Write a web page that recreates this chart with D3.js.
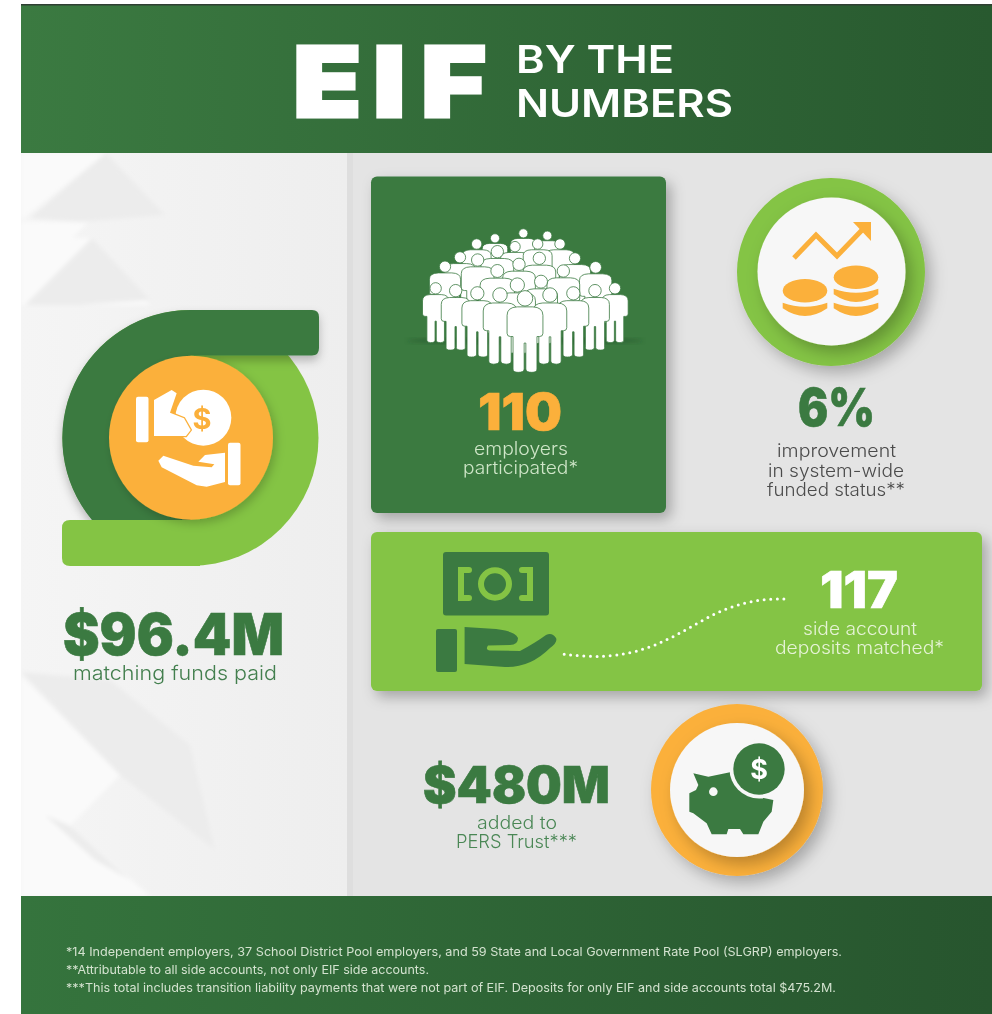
<!DOCTYPE html>
<html>
<head>
<meta charset="utf-8">
<title>EIF by the numbers</title>
<script src="https://cdn.jsdelivr.net/npm/d3@7"></script>
<style>
html, body { margin: 0; padding: 0; background: #fff; }
svg { display: block; filter: blur(0.4px); font-family: Inter, "Open Sans", sans-serif; }
</style>
</head>
<body>
<div id="chart"></div>
<script>
var titleMain = "EIF";
var titleSub = ["BY THE", "NUMBERS"];
var statValues = ["$96.4M", "110", "6%", "117", "$480M"];
var statCaptions = [
    ["matching funds paid"],
    ["employers", "participated*"],
    ["improvement", "in system-wide", "funded status**"],
    ["side account", "deposits matched*"],
    ["added to", "PERS Trust***"]
];
var footnotes = [
    "*14 Independent employers, 37 School District Pool employers, and 59 State and Local Government Rate Pool (SLGRP) employers.",
    "**Attributable to all side accounts, not only EIF side accounts.",
    "***This total includes transition liability payments that were not part of EIF. Deposits for only EIF and side accounts total $475.2M."
];

var dark = "#3b7a41", light = "#84c444", orange = "#fbb03b", paper = "#f7f7f7";

// where each figure and caption line sits: [x0, x1, baseline]
var statPlace = [
    { fig: [63, 284, 654.5, 41.5], fill: dark, caps: [[73, 277, 680, 20]], capFill: "#437f4e" },
    { fig: [478, 562, 429.5, 36.5], fill: orange, caps: [[474, 568, 455, 18], [463, 578, 474, 18]], capFill: "#cfe6c8" },
    { fig: [798, 875, 425.5, 37.5], fill: dark, caps: [[777, 896, 457, 18], [768, 904, 477, 18], [767, 905, 496, 18]], capFill: "#4b4b4b" },
    { fig: [820, 898, 607.5, 36.5], fill: "#fff", caps: [[803, 917, 635, 18], [775, 944, 654, 18]], capFill: "#e6f3d6" },
    { fig: [423, 610, 802.5, 36.5], fill: dark, caps: [[477, 557, 829, 18], [456, 577, 848, 18]], capFill: "#4a8755" }
];

var svg = d3.select("#chart").append("svg").attr("width", 992).attr("height", 1014);
var defs = svg.append("defs");

function gradient(id, c0, c1) {
    var g = defs.append("linearGradient").attr("id", id);
    g.append("stop").attr("offset", "0%").attr("stop-color", c0);
    g.append("stop").attr("offset", "100%").attr("stop-color", c1);
}
gradient("headFill", "#3b7a41", "#28592f");
gradient("footFill", "#35743d", "#27552e");
gradient("leftFill", "#f5f5f5", "#eeeeee");

function shadow(id, dx, dy, blur, alpha) {
    defs.append("filter").attr("id", id)
        .attr("x", "-30%").attr("y", "-30%").attr("width", "160%").attr("height", "160%")
        .append("feDropShadow")
        .attr("dx", dx).attr("dy", dy).attr("stdDeviation", blur)
        .attr("flood-color", "#000").attr("flood-opacity", alpha);
}
shadow("cardShadow", 5, 6, 7, 0.28);
shadow("ringShadow", 6, 7, 8, 0.26);
shadow("barShadow", 0, 5, 5, 0.25);
shadow("discShadow", 3, 4, 5, 0.2);
defs.append("filter").attr("id", "soft").append("feGaussianBlur").attr("stdDeviation", 2);

// crop coordinates from the zoomed reference -> page coordinates
function crop(ox, oy, sx, sy) {
    var x = d3.scaleLinear().domain([0, sx]).range([ox, ox + 1]);
    var y = d3.scaleLinear().domain([0, sy]).range([oy, oy + 1]);
    return function (p) { return [x(p[0]), y(p[1])]; };
}

function poly(g, pts, fill, curve) {
    return g.append("path")
        .attr("d", d3.line().curve(curve || d3.curveLinearClosed)(pts))
        .attr("fill", fill);
}

// text stretched to the exact width in the reference, size taken from its height
function fit(g, str, x0, x1, base, size, weight, fill) {
    return g.append("text")
        .attr("x", x0).attr("y", base)
        .attr("textLength", x1 - x0).attr("lengthAdjust", "spacingAndGlyphs")
        .attr("font-size", size).attr("font-weight", weight).attr("fill", fill)
        .text(str);
}

// ---- panels
svg.append("rect").attr("x", 21).attr("y", 153).attr("width", 326).attr("height", 743).attr("fill", "url(#leftFill)");
svg.append("rect").attr("x", 353).attr("y", 153).attr("width", 639).attr("height", 743).attr("fill", "#e4e4e4");

// faint chevrons in the left panel
var chevrons = svg.append("g").attr("filter", "url(#soft)");
[
    [[21, 153], [106, 153], [21, 220]],
    [[21, 222], [88, 222], [21, 290]],
    [[21, 238], [92, 238], [150, 305], [21, 305]],
    [[21, 676], [120, 775], [70, 826], [150, 896], [21, 896]]
].forEach(function (p) { poly(chevrons, p, "#fafafa"); });
[
    [[106, 153], [165, 215], [80, 222], [30, 218]],
    [[92, 238], [150, 300], [80, 305], [25, 305]],
    [[21, 672], [110, 680], [190, 745], [215, 850], [120, 775]],
    [[45, 815], [70, 826], [130, 880], [95, 860]]
].forEach(function (p) { poly(chevrons, p, "#ececec"); });
svg.append("rect").attr("x", 0).attr("y", 140).attr("width", 21).attr("height", 770).attr("fill", "#fff");
svg.append("rect").attr("x", 347).attr("y", 153).attr("width", 6).attr("height", 743).attr("fill", "#dedede");

// ---- header
svg.append("rect").attr("x", 21).attr("y", 4).attr("width", 971).attr("height", 149).attr("fill", "url(#headFill)");
svg.append("rect").attr("x", 21).attr("y", 4).attr("width", 971).attr("height", 1.5).attr("fill", "#2f3f33");

// one text, placed letter by letter and widened, the fonts here have no such wide black cut
var eifScale = 1.15;
svg.append("text")
    .attr("transform", "translate(0,116.5) scale(" + eifScale + ",1)")
    .attr("x", [293, 373, 421].map(function (x) { return x / eifScale; }).join(" "))
    .attr("y", 0)
    .attr("font-size", 97).attr("font-weight", 900).attr("fill", "#fff")
    .attr("stroke", "#fff").attr("stroke-width", 3.2)
    .text(titleMain);
fit(svg, titleSub[0], 516, 674, 73, 38, 600, "#fff");
fit(svg, titleSub[1], 516, 733, 117, 38, 600, "#fff");

// ---- footer
svg.append("rect").attr("x", 21).attr("y", 896).attr("width", 971).attr("height", 118).attr("fill", "url(#footFill)");
var footPlace = [[66, 842, 956], [66, 429, 974], [66, 836, 992]];
footnotes.forEach(function (t, i) {
    var p = footPlace[i];
    fit(svg, t, p[0], p[1], p[2], 12, 400, "#d3e2cf");
});

// ---- left swirl
var swirl = svg.append("g");
swirl.append("circle").attr("cx", 190.5).attr("cy", 438).attr("r", 128).attr("fill", light);
swirl.append("path").attr("fill", dark).attr("filter", "url(#barShadow)")
    .attr("d", "M312,310 H190.5 A128,128 0 0 0 92,520 H190.5 V355.5 H312 Q319,355.5 319,348 V317 Q319,310 312,310 Z");
swirl.append("path").attr("fill", light)
    .attr("d", "M70,520 H200 V566 H70 Q62,566 62,558 V528 Q62,520 70,520 Z");
swirl.append("circle").attr("cx", 191).attr("cy", 437.7).attr("r", 82).attr("fill", orange).attr("filter", "url(#discShadow)");

var z2 = crop(30, 290, 3, 3);
var money = swirl.append("g");
money.append("rect").attr("x", 136).attr("y", 396.7).attr("width", 12.5).attr("height", 45.5).attr("rx", 2).attr("fill", "#fff");
money.append("circle").attr("cx", z2([520, 0])[0]).attr("cy", z2([0, 383])[1]).attr("r", 28).attr("fill", "#fff");
poly(money, [[372, 330], [425, 300], [440, 310], [420, 368], [462, 385], [482, 420], [468, 438], [372, 438]].map(z2), "#fff")
    .attr("stroke", orange).attr("stroke-width", 2.5).attr("paint-order", "stroke");
money.append("text").attr("x", z2([516, 0])[0]).attr("y", z2([0, 416])[1]).attr("text-anchor", "middle")
    .attr("font-size", 29).attr("font-weight", 700).attr("fill", orange).text("$");
money.append("rect").attr("x", 228).attr("y", 442.7).attr("width", 12.5).attr("height", 42.5).attr("rx", 2).attr("fill", "#fff");
poly(money, [[385, 512], [400, 497], [490, 527], [545, 532], [553, 523], [505, 515], [525, 495], [585, 488], [585, 576], [530, 590], [500, 586], [395, 532]].map(z2), "#fff");

// ---- employers card
svg.append("rect").attr("x", 371).attr("y", 176.5).attr("width", 295).attr("height", 336.5).attr("rx", 6)
    .attr("fill", dark).attr("filter", "url(#cardShadow)");

var z3 = crop(365, 170, 3, 3);
// [x of head, y of head, figure height, width factor] back to front, crop px
var crowd = [
    [475, 190, 145, 1.25], [390, 205, 145, 1.25], [547, 197, 145, 1.25],
    [335, 222, 165, 1.25], [585, 222, 165, 1.25], [450, 230, 165, 1.25], [518, 222, 165, 1.25],
    [285, 262, 178, 1.25], [630, 265, 178, 1.25], [397, 245, 195, 1.2], [338, 270, 195, 1.2], [523, 265, 195, 1.2],
    [240, 290, 178, 1.25], [692, 292, 185, 1.25], [462, 283, 195, 1.2], [397, 303, 205, 1.2], [595, 303, 195, 1.2],
    [528, 335, 205, 1.15], [457, 345, 225, 1.15],
    [212, 355, 179, 1.05], [750, 355, 179, 1.05], [272, 362, 196, 1.05], [690, 362, 196, 1.05],
    [337, 370, 210, 1.05], [625, 370, 210, 1.05], [405, 375, 228, 1.05], [555, 375, 228, 1.05], [480, 385, 244, 1.05]
];
var personPath = "M-.09,.195 Q-.21,.2 -.21,.3 L-.21,.52 Q-.21,.56 -.17,.56 L-.14,.56 L-.14,.96 Q-.14,1 -.08,1 Q-.012,1 -.01,.96 L-.01,.64 L.01,.64 L.01,.96 Q.012,1 .08,1 Q.14,1 .14,.96 L.14,.56 L.17,.56 Q.21,.56 .21,.52 L.21,.3 Q.21,.2 .09,.195 Z";

var people = svg.append("g");
var foot = z3([480, 512]);
people.append("ellipse").attr("cx", foot[0]).attr("cy", foot[1]).attr("rx", 118).attr("ry", 3)
    .attr("fill", "#1b4524").attr("opacity", 0.5).attr("filter", "url(#soft)");
var person = people.selectAll("g.person").data(crowd).enter().append("g")
    .attr("class", "person")
    .attr("transform", function (d) {
        var p = z3([d[0], d[1]]);
        return "translate(" + p[0] + "," + p[1] + ")";
    });
// each head goes with its own body so the figures in front cover it
person.append("path").attr("d", personPath).attr("fill", "#fff")
    .attr("stroke", dark).attr("stroke-width", 0.8).attr("vector-effect", "non-scaling-stroke")
    .attr("transform", function (d) {
        var h = d[2] / 3;
        return "translate(0," + (-0.09 * h) + ") scale(" + (h * d[3]) + "," + h + ")";
    });
person.append("circle").attr("r", function (d) { return d[2] / 3 * 0.095; })
    .attr("fill", "#fff").attr("stroke", dark).attr("stroke-width", 0.8);

// ---- funded status ring
svg.append("circle").attr("cx", 831).attr("cy", 272).attr("r", 94).attr("fill", light).attr("filter", "url(#ringShadow)");
svg.append("circle").attr("cx", 831.5).attr("cy", 271.5).attr("r", 74).attr("fill", paper).attr("filter", "url(#ringShadow)");

var trend = svg.append("g");
trend.append("path").attr("fill", "none").attr("stroke", orange).attr("stroke-width", 5).attr("stroke-linejoin", "miter")
    .attr("d", d3.line()([[794, 258], [816, 235], [837, 256], [864, 228]]));
poly(trend, [[853, 222], [871, 222], [871, 241]], orange);

function coinBand(cx, y) {
    var rx = 22.3;
    return "M" + (cx - rx) + "," + y + " Q" + cx + "," + (y + 8) + " " + (cx + rx) + "," + y +
        " V" + (y + 5.6) + " Q" + cx + "," + (y + 21) + " " + (cx - rx) + "," + (y + 5.6) + " Z";
}
[[805, 290.7, [302.7]], [856, 277.3, [288.7, 302.7]]].forEach(function (c) {
    trend.append("ellipse").attr("cx", c[0]).attr("cy", c[1]).attr("rx", 22.3).attr("ry", 11.7).attr("fill", orange);
    c[2].forEach(function (y) {
        trend.append("path").attr("fill", orange).attr("d", coinBand(c[0], y));
    });
});

// ---- side account card
svg.append("rect").attr("x", 371).attr("y", 532).attr("width", 611).attr("height", 159).attr("rx", 6)
    .attr("fill", light).attr("filter", "url(#cardShadow)");

var z5 = crop(365, 525, 2.51, 3);
var cash = svg.append("g");
cash.append("rect").attr("x", 443).attr("y", 552).attr("width", 106).attr("height", 63.5).attr("rx", 3).attr("fill", dark);
cash.append("ellipse").attr("cx", 495).attr("cy", 584).attr("rx", 14).attr("ry", 13.7).attr("fill", "none").attr("stroke", light).attr("stroke-width", 6);
cash.append("path").attr("fill", "none").attr("stroke", light).attr("stroke-width", 6).attr("stroke-linecap", "round")
    .attr("d", "M469,570 H461 V598 H469 M522,570 H530 V598 H522");
cash.append("rect").attr("x", 436).attr("y", 629).attr("width", 21).attr("height", 43).attr("rx", 2).attr("fill", dark);
cash.append("path").attr("fill", dark)
    .attr("d", "M464.6,627 L496,629 Q515,631 518,638 Q518,645 510,645 L488,645.5 Q485,650 490,650.5 L520,651 Q535,643 546,635 Q552,632 556,638 Q558,642 550,648 Q530,668 505,667 L464.6,664 Z");

svg.append("path").attr("fill", "none").attr("stroke", "#fff").attr("stroke-width", 3)
    .attr("stroke-linecap", "round").attr("stroke-dasharray", "0 6.6")
    .attr("d", d3.line().curve(d3.curveBasis)([[500, 388], [580, 398], [680, 385], [780, 335], [880, 260], [980, 222], [1065, 222]].map(z5)));

// ---- PERS trust ring
svg.append("circle").attr("cx", 737).attr("cy", 790).attr("r", 86).attr("fill", orange).attr("filter", "url(#ringShadow)");
svg.append("circle").attr("cx", 737).attr("cy", 790).attr("r", 67).attr("fill", paper).attr("filter", "url(#ringShadow)");

var z6 = crop(400, 695, 3, 3);
poly(svg, [[880, 235], [925, 245], [990, 232], [1010, 270], [1050, 300], [1120, 315], [1115, 350], [1090, 380], [1075, 418], [1030, 418], [1020, 402], [985, 402], [980, 418], [935, 418], [920, 385], [880, 355], [868, 350], [868, 295], [888, 285], [895, 270]].map(z6), dark);
var eye = z6([940, 290]);
svg.append("circle").attr("cx", eye[0]).attr("cy", eye[1]).attr("r", 4.3).attr("fill", paper);
svg.append("circle").attr("cx", 759).attr("cy", 769).attr("r", 29.5).attr("fill", paper);
svg.append("circle").attr("cx", 759).attr("cy", 769).attr("r", 25.7).attr("fill", dark);
svg.append("text").attr("x", 759).attr("y", 779).attr("text-anchor", "middle")
    .attr("font-size", 27).attr("font-weight", 700).attr("fill", "#fff").text("$");

// ---- the numbers and their captions
statValues.forEach(function (v, i) {
    var s = statPlace[i];
    fit(svg, v, s.fig[0], s.fig[1], s.fig[2], s.fig[3] / 0.727, 900, s.fill)
        .attr("stroke", s.fill).attr("stroke-width", 0.6);
    statCaptions[i].forEach(function (line, j) {
        var c = s.caps[j];
        fit(svg, line, c[0], c[1], c[2], c[3], 300, s.capFill);
    });
});
</script>
</body>
</html>
